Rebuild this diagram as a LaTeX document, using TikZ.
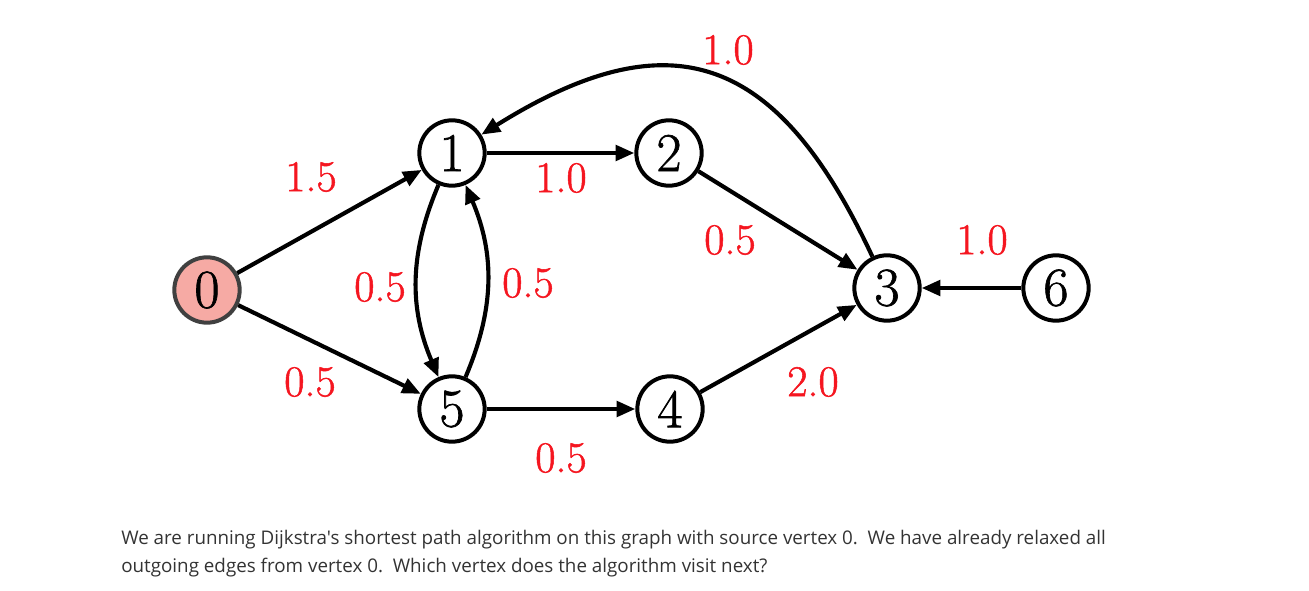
\documentclass[tikz,border=0pt]{standalone}
\usepackage{fontspec}
\newfontfamily\capfont{Open Sans}
\newfontfamily\numfont[FakeBold=1.2]{Latin Modern Roman}
\usetikzlibrary{arrows.meta}
\definecolor{lblred}{RGB}{245,22,32}
\definecolor{srcfill}{RGB}{246,170,164}
\definecolor{srcdraw}{RGB}{64,64,64}
\definecolor{captxt}{RGB}{51,51,51}
\tikzset{
  vertex/.style={circle,draw=black,line width=3pt,minimum size=49pt,inner sep=0pt,fill=white,font=\numfont\fontsize{41}{41}\selectfont},
  source/.style={vertex,fill=srcfill,draw=srcdraw},
  wlabel/.style={text=lblred,font=\numfont\fontsize{33}{33}\selectfont,inner sep=0pt},
  edge/.style={line width=3.1pt,-{Triangle[length=14pt,width=11.5pt]}},
  caption/.style={anchor=base west,inner sep=0pt,text=captxt,font=\capfont\fontsize{14.1}{17}\selectfont}
}
\begin{document}
\begin{tikzpicture}[x=0.75pt,y=-0.75pt]
\useasboundingbox (0,0) rectangle (1309,591);
\node[source] (n0) at (207,290) {0};
\node[vertex] (n1) at (452,153) {1};
\node[vertex] (n2) at (669,153) {2};
\node[vertex] (n3) at (887,288) {3};
\node[vertex] (n4) at (670,409) {4};
\node[vertex] (n5) at (452,409) {5};
\node[vertex] (n6) at (1056,288) {6};

\draw[edge] (n0) -- (n1);
\draw[edge] (n0) -- (n5);
\draw[edge] (n1) -- (n2);
\draw[edge] (n2) -- (n3);
\draw[edge] (n4) -- (n3);
\draw[edge] (n5) -- (n4);
\draw[edge] (n6) -- (n3);
\draw[edge] (n1) to[bend right=23] (n5);
\draw[edge] (n5) to[bend right=23] (n1);
\draw[edge] (n3) to[out=115,in=32,looseness=1.4] (n1);

\node[wlabel] (w31) at (728,50) {1.0};
\node[wlabel] (w01) at (311,177) {1.5};
\node[wlabel] (w12) at (561,178) {1.0};
\node[wlabel] (w23) at (730,240) {0.5};
\node[wlabel] (w63) at (982,240) {1.0};
\node[wlabel] (w15) at (380,287) {0.5};
\node[wlabel] (w51) at (528,283) {0.5};
\node[wlabel] (w05) at (310,382) {0.5};
\node[wlabel] (w43) at (813,382) {2.0};
\node[wlabel] (w54) at (561,458) {0.5};

\node[caption] (c1) at (121,544) {We are running Dijkstra's shortest path algorithm on this graph with source vertex 0.\ \ We have already relaxed all};
\node[caption] (c2) at (121,572) {outgoing edges from vertex 0.\ \ Which vertex does the algorithm visit next?};
\end{tikzpicture}
\end{document}
